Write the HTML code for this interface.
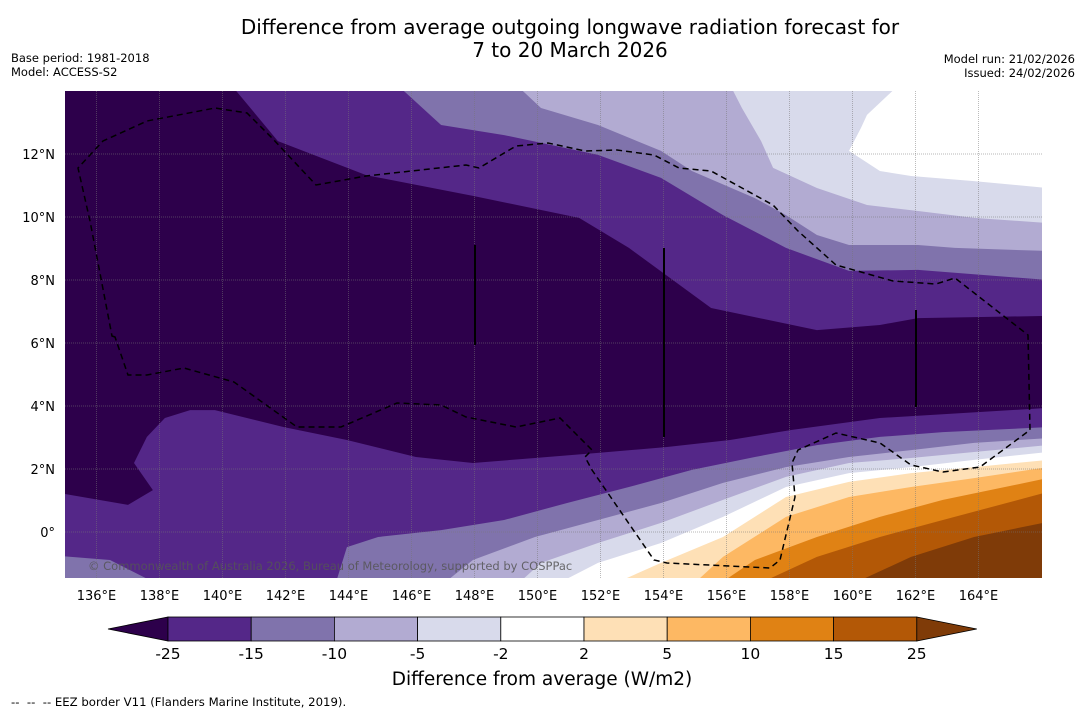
<!DOCTYPE html>
<html><head><meta charset="utf-8">
<style>
body{margin:0;background:#fff;width:1085px;height:713px;overflow:hidden;font-family:"DejaVu Sans","Liberation Sans",sans-serif;}
svg{position:absolute;left:0;top:0}
</style></head>
<body>
<svg id="chart" width="1085" height="713" viewBox="0 0 1085 713" xmlns="http://www.w3.org/2000/svg">
<text x="570" y="34" text-anchor="middle" font-size="20" fill="#000">Difference from average outgoing longwave radiation forecast for</text>
<text x="570" y="57" text-anchor="middle" font-size="20" fill="#000">7 to 20 March 2026</text>
<text x="11" y="62" font-size="11.5">Base period: 1981-2018</text>
<text x="11" y="76" font-size="11.5">Model: ACCESS-S2</text>
<text x="1075" y="63" text-anchor="end" font-size="11.5">Model run: 21/02/2026</text>
<text x="1075" y="77" text-anchor="end" font-size="11.5">Issued: 24/02/2026</text>
<defs><clipPath id="mapclip"><rect x="65" y="91" width="977" height="487"/></clipPath></defs>
<g id="map" clip-path="url(#mapclip)">
<rect x="65" y="91" width="977" height="487" fill="#2d004b"/>
<g id="bands"></g>
<g id="grid"></g>
<path fill="none" stroke="#000" stroke-width="1.5" stroke-dasharray="6,4"
d="M115,337 L112,336 L90,221 L78,168 L103,141 L147,121 L215,108 L247,113 L272,138 L316,185 L366,176 L466,165 L479,168 L516,146 L548,143 L585,151 L617,150 L654,155 L679,168 L711,171 L773,205 L798,231 L836,265 L893,281 L936,284 L955,278 L1028,335 L1030,430 L980,467 L943,472 L911,465 L880,443 L836,433 L798,450 L792,463 L795,497 L780,560 L770,568 L667,563 L654,560 L592,470 L585,457 L592,450 L560,418 L516,427 L466,417 L441,405 L397,403 L341,427 L297,427 L234,382 L184,368 L147,375 L128,375 Z"/>
<line x1="475" y1="245" x2="475" y2="345" stroke="#000" stroke-width="2"/>
<line x1="664" y1="248" x2="664" y2="437" stroke="#000" stroke-width="2"/>
<line x1="916" y1="310" x2="916" y2="407" stroke="#000" stroke-width="2"/>
<text x="88" y="570" font-size="11.5" fill="#555" opacity="0.85">© Commonwealth of Australia 2026, Bureau of Meteorology, supported by COSPPac</text>
</g>
<g id="axes"></g>
<g id="colorbar"></g>
<text x="542" y="685" text-anchor="middle" font-size="18.5">Difference from average (W/m2)</text>
<text x="11" y="706" font-size="11.7" style="white-space:pre" xml:space="preserve">--  --  -- EEZ border V11 (Flanders Marine Institute, 2019).</text>
</svg>
<script>
const NS="http://www.w3.org/2000/svg";
const levelColors=["#2d004b","#542788","#8073ac","#b2abd2","#d8daeb","#ffffff","#fee0b6","#fdb863","#e08214","#b35806","#7f3b08"];
const levelLabels=["-25","-15","-10","-5","-2","2","5","10","15","25"];
const lonTicks=[136,138,140,142,144,146,148,150,152,154,156,158,160,162,164];
const latTicks=[0,2,4,6,8,10,12];
const top1=[[140.27,14.2],[141.76,12.41],[144.56,11.33],[147.95,10.67],[151.32,9.97],[152.90,9.02],[155.51,7.11],[158.87,6.41],[160.87,6.57],[162.08,6.79],[166.2,6.86]];
const top2=[[145.54,14.2],[146.94,12.92],[148.94,12.60],[151.92,11.97],[153.92,11.24],[155.89,10.06],[157.89,9.02],[159.89,8.29],[162.08,8.32],[166.2,8.0]];
const top3=[[149.32,14.2],[150.11,13.46],[151.92,12.92],[153.92,12.10],[154.90,11.46],[156.90,10.60],[157.89,10.06],[158.87,9.43],[159.89,9.11],[162.08,9.11],[163.25,9.02],[166.2,8.92]];
const top4=[[156.11,14.2],[156.49,13.46],[157.10,12.41],[157.48,11.56],[158.87,10.92],[160.46,10.38],[162.08,10.19],[163.86,9.97],[166.2,9.81]];
const top5=[[161.48,14.2],[160.46,13.24],[160.27,12.83],[159.89,12.10],[160.87,11.46],[161.86,11.30],[163.86,11.14],[166.2,10.92]];
const bot1=[[134.8,1.24],[137,0.86],[137.79,1.33],[137.19,2.19],[137.60,3.02],[138.17,3.62],[138.97,3.87],[139.76,3.87],[141.95,3.33],[143.95,2.92],[146.14,2.38],[147.95,2.19],[149.92,2.35],[151.92,2.51],[154.11,2.70],[156.11,2.92],[158.08,3.24],[160.87,3.62],[166.2,3.94]];
const bot2=[[143.57,-1.7],[143.95,-0.48],[144.94,-0.16],[146.94,0.06],[148.94,0.38],[150.94,0.92],[152.90,1.43],[154.90,1.97],[156.90,2.38],[158.87,2.76],[160.87,3.02],[162.87,3.17],[166.2,3.33]];
const bot3=[[146.94,-1.7],[147.95,-0.89],[149.92,-0.16],[151.92,0.38],[153.92,0.92],[155.89,1.56],[157.89,2.06],[159.89,2.38],[161.86,2.60],[163.86,2.83],[166.2,2.98]];
const bot4=[[149.32,-1.7],[150.11,-0.98],[151.92,-0.35],[153.92,0.29],[155.89,1.02],[157.89,1.75],[159.89,2.19],[161.86,2.35],[163.86,2.54],[166.2,2.76]];
const bot5=[[150.52,-1.7],[151.92,-0.98],[153.92,-0.35],[155.89,0.48],[157.89,1.43],[159.89,1.87],[161.86,2.06],[163.86,2.29],[166.2,2.54]];
const bot6=[[152.30,-1.7],[153.92,-0.98],[155.89,-0.16],[157.89,1.11],[159.89,1.59],[161.86,1.87],[163.86,2.06],[166.2,2.29]];
const bot7=[[154.90,-1.7],[155.89,-0.79],[157.89,0.48],[159.89,1.11],[161.86,1.43],[163.86,1.71],[166.2,2.06]];
const bot8=[[155.70,-1.7],[156.90,-0.89],[158.87,-0.16],[160.87,0.48],[162.87,1.02],[166.2,1.71]];
const bot9=[[156.90,-1.7],[158.87,-0.79],[160.87,-0.16],[162.87,0.38],[166.2,1.27]];
const bot10=[[159.89,-1.7],[161.86,-0.79],[163.86,-0.16],[166.2,0.32]];
const leftPatch=[[134.8,-0.76],[136.43,-0.89],[138.03,-1.7],[134.8,-1.7]];

const X=lon=>65+(lon-135)*31.5;
const Y=lat=>91+(14-lat)*31.5;
const pts=a=>a.map(p=>X(p[0]).toFixed(1)+","+Y(p[1]).toFixed(1)).join(" ");
const bands=document.getElementById("bands");
function poly(points,color,name){
  const p=document.createElementNS(NS,"polygon");
  p.setAttribute("points",pts(points));
  p.setAttribute("fill",color);
  
  
  bands.appendChild(p);
}
const tops=[top1,top2,top3,top4,top5];
tops.forEach((line,i)=>{poly(line.concat([[166.2,14.2]]),levelColors[i+1],"contour-band-north-"+(i+1));});
poly(bot1.concat([[166.2,-1.7],[134.8,-1.7]]),levelColors[1],"contour-band-south-1");
poly(leftPatch,levelColors[2],"contour-band-southwest-patch");
const bots=[bot2,bot3,bot4,bot5,bot6,bot7,bot8,bot9,bot10];
bots.forEach((line,i)=>{poly(line.concat([[166.2,-1.7]]),levelColors[i+2],"contour-band-south-"+(i+2));});

const grid=document.getElementById("grid");
lonTicks.forEach(l=>{
  const g=document.createElementNS(NS,"line");
  g.setAttribute("x1",X(l));g.setAttribute("x2",X(l));g.setAttribute("y1",91);g.setAttribute("y2",578);
  g.setAttribute("stroke","#777");g.setAttribute("stroke-width","0.7");g.setAttribute("stroke-dasharray","1,1");g.setAttribute("opacity","0.7");
  
  
  grid.appendChild(g);
});
latTicks.forEach(l=>{
  const g=document.createElementNS(NS,"line");
  g.setAttribute("y1",Y(l));g.setAttribute("y2",Y(l));g.setAttribute("x1",65);g.setAttribute("x2",1042);
  g.setAttribute("stroke","#777");g.setAttribute("stroke-width","0.7");g.setAttribute("stroke-dasharray","1,1");g.setAttribute("opacity","0.7");
  
  
  grid.appendChild(g);
});
const axes=document.getElementById("axes");
lonTicks.forEach(l=>{
  const t=document.createElementNS(NS,"text");
  t.setAttribute("x",X(l));t.setAttribute("y",600);t.setAttribute("text-anchor","middle");t.setAttribute("font-size","13");
  t.textContent=l+"°E";
  
  
  axes.appendChild(t);
});
latTicks.forEach(l=>{
  const t=document.createElementNS(NS,"text");
  t.setAttribute("x",55);t.setAttribute("y",Y(l)+5);t.setAttribute("text-anchor","end");t.setAttribute("font-size","13");
  t.textContent=l===0?"0°":l+"°N";
  
  
  axes.appendChild(t);
});
const cb=document.getElementById("colorbar");
const cbX0=168,cbW=83.2,cbY=617,cbH=24;
function cbEl(tag,attrs,name){
  const e=document.createElementNS(NS,tag);
  for(const k in attrs)e.setAttribute(k,attrs[k]);
  
  
  cb.appendChild(e);return e;
}
cbEl("polygon",{points:`108,${cbY+cbH/2} ${cbX0},${cbY} ${cbX0},${cbY+cbH}`,fill:levelColors[0],stroke:"#000","stroke-width":0.8},"colorbar-min-arrow");
for(let i=0;i<9;i++){
  cbEl("rect",{x:cbX0+i*cbW,y:cbY,width:cbW,height:cbH,fill:levelColors[i+1],stroke:"#000","stroke-width":0.8},"colorbar-box");
}
const cbEnd=cbX0+9*cbW;
cbEl("polygon",{points:`${cbEnd},${cbY} ${cbEnd+60},${cbY+cbH/2} ${cbEnd},${cbY+cbH}`,fill:levelColors[10],stroke:"#000","stroke-width":0.8},"colorbar-max-arrow");
levelLabels.forEach((lab,i)=>{
  const t=cbEl("text",{x:cbX0+i*cbW,y:659,"text-anchor":"middle","font-size":"15.5"},"colorbar-tick-label");
  t.textContent=lab;
});
</script>
</body></html>
